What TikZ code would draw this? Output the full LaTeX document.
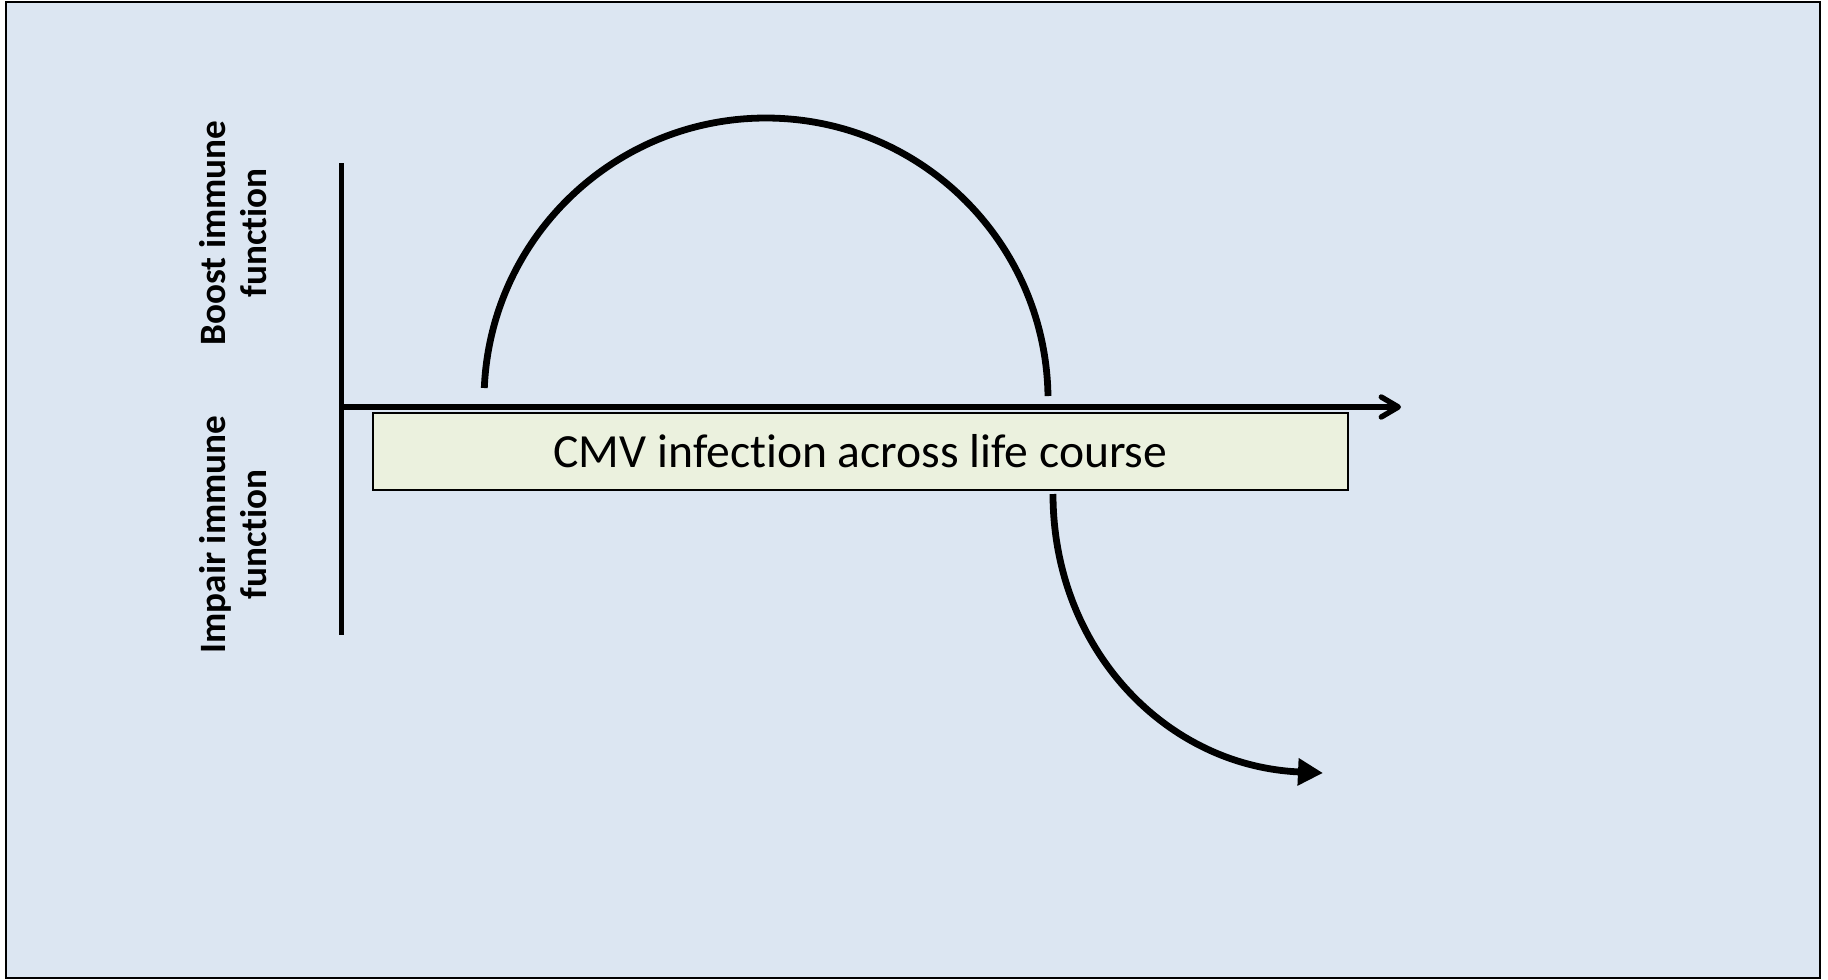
\documentclass[tikz,border=0pt]{standalone}
\usepackage{fontspec}
\setmainfont{Carlito}[Ligatures=NoCommon]
\usetikzlibrary{arrows.meta}
\definecolor{bgblue}{HTML}{DCE6F2}
\definecolor{boxgreen}{HTML}{EBF1DE}
\tikzset{
  curve/.style={line width=3.4pt, black},
  axis/.style={line width=2.7pt, black},
  lbl/.style={rotate=90, align=center, font=\fontsize{18.6}{20.5}\selectfont\bfseries, inner sep=0pt},
  infobox/.style={draw=black, line width=0.6pt, fill=boxgreen, minimum width=487.5pt, minimum height=38.5pt, inner sep=0pt, font=\fontsize{23.8}{28}\selectfont},
}
\begin{document}
\begin{tikzpicture}[x=0.5pt, y=-0.5pt]
\useasboundingbox (0,0) rectangle (1828,980);
\fill[white] (0,0) rectangle (1828,980);
\draw[fill=bgblue, line width=1.2pt] (6,2) rectangle (1820,978);
% axes
\coordinate (vtop) at (341.6,163);
\coordinate (vbot) at (341.6,635);
\coordinate (hstart) at (341.6,407);
\coordinate (hend) at (1401,407);
\draw[axis] (vtop) -- (vbot);
\draw[axis, -{Straight Barb[length=8.5pt, width=10pt, line cap=round, line join=round]}] (hstart) -- (hend);
% box
\node[infobox] (box) at (860.5,451.5) {CMV infection across life course};
% labels
\node[lbl] (boost) at (233,233) {Boost immune\\function};
\node[lbl] (impair) at (233,534.5) {Impair immune\\function};
% arc (circle of radius 282px centred at (766,400))
\coordinate (a0) at (484.3,388);
\draw[curve] (a0) arc[start angle=177.56, end angle=0.81, radius=141pt];
% lower curve
\coordinate (b0) at (1053,494);
\coordinate (b1) at (1323,773);
\draw[curve, -{Triangle[length=12.5pt, width=13pt]}] (b0) .. controls (1053,648) and (1165,766) .. (b1);
\end{tikzpicture}
\end{document}
